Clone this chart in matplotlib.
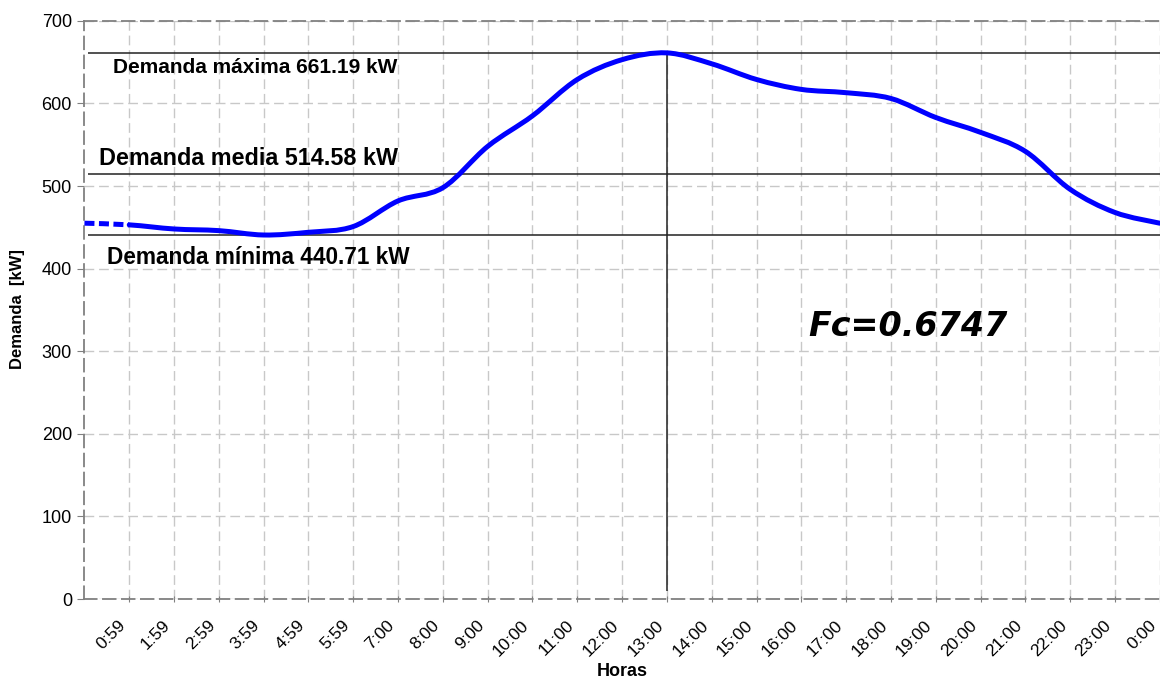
import numpy as np
import matplotlib
matplotlib.use("Agg")
from matplotlib import pyplot as plt
from matplotlib.path import Path
from matplotlib.patches import PathPatch
from matplotlib.transforms import ScaledTranslation

plt.rcParams['font.family'] = ['Liberation Sans', 'DejaVu Sans']

# Hourly demand curve (kW)
horas = ['0:59', '1:59', '2:59', '3:59', '4:59', '5:59', '7:00', '8:00', '9:00',
         '10:00', '11:00', '12:00', '13:00', '14:00', '15:00', '16:00', '17:00',
         '18:00', '19:00', '20:00', '21:00', '22:00', '23:00', '0:00']
demanda = [455, 453, 448, 446, 440.71, 444, 451, 482, 498, 548, 585, 629, 653,
           661.19, 648, 629, 617, 613, 606, 583, 565, 542, 496, 468, 455]

dem_max = 661.19
dem_media = 514.58
dem_min = 440.71
fc = 0.6747
hora_max = 13

x = np.arange(len(demanda))
y = np.array(demanda, dtype=float)


def smooth_path(xs, ys):
    # cubic bezier through the points (Catmull-Rom style tangents)
    px = np.concatenate(([xs[0]], xs, [xs[-1]]))
    py = np.concatenate(([ys[0]], ys, [ys[-1]]))
    verts = [(xs[0], ys[0])]
    codes = [Path.MOVETO]
    for i in range(1, len(px) - 2):
        c1 = (px[i] + (px[i + 1] - px[i - 1]) / 6, py[i] + (py[i + 1] - py[i - 1]) / 6)
        c2 = (px[i + 1] - (px[i + 2] - px[i]) / 6, py[i + 1] - (py[i + 2] - py[i]) / 6)
        verts += [c1, c2, (px[i + 1], py[i + 1])]
        codes += [Path.CURVE4] * 3
    return Path(verts, codes)


fig = plt.figure(figsize=(11.6, 6.81), dpi=100)
ax = fig.add_axes([0.0728, 0.1204, 0.927, 0.849])

ax.set_xlim(0, 24)
ax.set_ylim(0, 700)

# grid
ax.set_xticks(x[1:])
ax.set_xticklabels(horas, rotation=45, ha='right', va='center', rotation_mode='anchor', fontsize=12.5)
ax.set_yticks(np.arange(0, 701, 100))
ax.tick_params(axis='y', labelsize=13, direction='out', length=5, color='#808080', pad=4)
ax.tick_params(axis='x', direction='inout', length=4.5, color='#808080', pad=15)
ax.grid(True, color='#c8c8c8', linestyle=(0, (7, 3.5)), linewidth=1)

# nudge the rotated hour labels a little to the left of their ticks
shift = ScaledTranslation(-6 / 100, 0, fig.dpi_scale_trans)
for tick in ax.xaxis.get_major_ticks():
    tick.label1.set_transform(tick.label1.get_transform() + shift)

for side in ['top', 'bottom', 'left']:
    ax.spines[side].set_color('#808080')
    ax.spines[side].set_linestyle((0, (7, 3.5)))
    ax.spines[side].set_linewidth(1.3)
ax.spines['right'].set_visible(False)

# reference lines
ax.hlines([dem_max, dem_media, dem_min], 0.08, 24, colors='#222222', linewidth=1.1, zorder=3)
ax.vlines(hora_max, 10, dem_max, colors='#222222', linewidth=1.1, zorder=3)

# demand curve: dashed first hour, solid afterwards
full = smooth_path(x, y)
ax.add_patch(PathPatch(Path(full.vertices[:4], full.codes[:4]),
                       fill=False, edgecolor='#0000ff', linewidth=3.6,
                       linestyle=(0, (2, 0.9)), capstyle='butt', zorder=4))
ax.add_patch(PathPatch(Path(full.vertices[3:], [Path.MOVETO] + list(full.codes[4:])),
                       fill=False, edgecolor='#0000ff', linewidth=3.6,
                       capstyle='round', joinstyle='round', zorder=4))

ax.text(0.64, 643, f'Demanda máxima {dem_max:.2f} kW', fontsize=15, fontweight='bold', va='center')
ax.text(0.32, 533, f'Demanda media {dem_media:.2f} kW', fontsize=16.8, fontweight='bold', va='center')
ax.text(0.5, 413, f'Demanda mínima {dem_min:.2f} kW', fontsize=16.3, fontweight='bold', va='center')
ax.text(16.15, 330, f'Fc={fc:.4f}', fontsize=24, fontweight='bold', style='italic',
        family='DejaVu Sans', va='center')

fig.text(18 / 1160, 1 - 309 / 681, 'Demanda  [kW]', rotation=90, fontsize=12, fontweight='bold',
         ha='center', va='center')
fig.text(622 / 1160, 1 - 671 / 681, 'Horas', fontsize=13, fontweight='bold', ha='center', va='center')

fig.savefig('out.png', dpi=100)
